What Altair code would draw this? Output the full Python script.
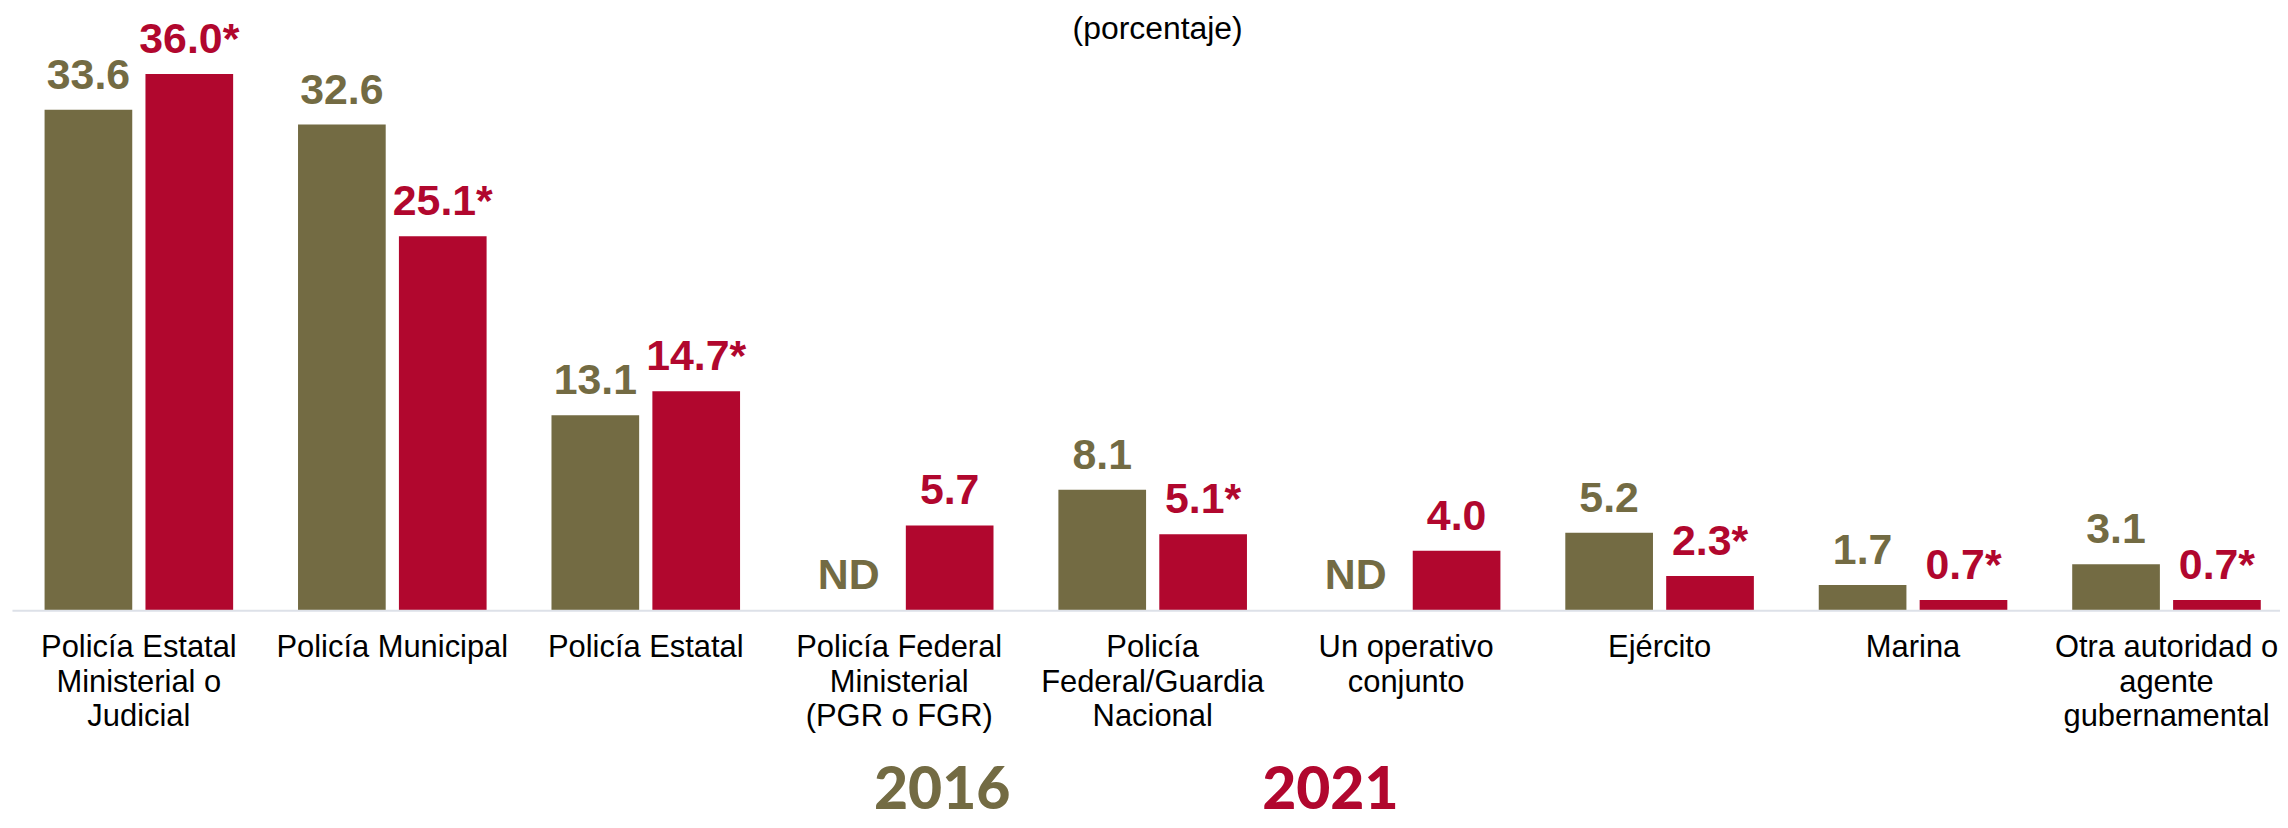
import altair as alt
import pandas as pd

categories = [
    "Policía Estatal\nMinisterial o\nJudicial",
    "Policía Municipal",
    "Policía Estatal",
    "Policía Federal\nMinisterial\n(PGR o FGR)",
    "Policía\nFederal/Guardia\nNacional",
    "Un operativo\nconjunto",
    "Ejército",
    "Marina",
    "Otra autoridad o\nagente\ngubernamental",
]
years = ["2016", "2021"]
values_2016 = [33.6, 32.6, 13.1, None, 8.1, None, 5.2, 1.7, 3.1]
values_2021 = [36.0, 25.1, 14.7, 5.7, 5.1, 4.0, 2.3, 0.7, 0.7]
labels_2016 = ["33.6", "32.6", "13.1", "ND", "8.1", "ND", "5.2", "1.7", "3.1"]
labels_2021 = ["36.0*", "25.1*", "14.7*", "5.7", "5.1*", "4.0", "2.3*", "0.7*", "0.7*"]
subtitle = "(porcentaje)"

colors = ["#736B43", "#B1072E"]

rows = []
for i, c in enumerate(categories):
    for yr, vals, labs in ((years[0], values_2016, labels_2016), (years[1], values_2021, labels_2021)):
        v = vals[i]
        rows.append({"cat": c, "year": yr, "value": v,
                     "ypos": v if v is not None else 0.0, "label": labs[i]})
df = pd.DataFrame(rows)

color_scale = alt.Scale(domain=years, range=colors)
x_enc = alt.X(
    "cat:N", sort=categories,
    scale=alt.Scale(paddingInner=0.256, paddingOuter=0.1022, align=0.629),
    axis=alt.Axis(
        title=None, labelExpr="split(datum.label, '\\n')",
        domain=True, domainColor="#DDE1E8", domainWidth=2,
        ticks=False, tickSize=0, grid=False,
        labelFont="Liberation Sans", labelFontSize=31, labelColor="#000000",
        labelLineHeight=35, labelAngle=0, labelPadding=46,
        labelBaseline="alphabetic", labelLimit=0, labelOverlap=False,
        labelAlign="center", zindex=1,
    ),
)
xoff = alt.XOffset("year:N", sort=years, scale=alt.Scale(paddingInner=0.131, paddingOuter=0))
y_scale = alt.Scale(domain=[0, 36.85], nice=False, zero=True)

base = alt.Chart(df)
bars = base.mark_bar().encode(
    x=x_enc, xOffset=xoff,
    y=alt.Y("value:Q", scale=y_scale, axis=None),
    color=alt.Color("year:N", scale=color_scale, legend=None),
)
texts = base.mark_text(
    font="Liberation Sans", fontWeight="bold", fontSize=43,
    dy=-21, baseline="alphabetic", align="center",
).encode(
    x=x_enc, xOffset=xoff,
    y=alt.Y("ypos:Q", scale=y_scale, axis=None),
    text="label:N",
    color=alt.Color("year:N", scale=color_scale, legend=None),
)

legend_x = [933.5, 1323]
legend_layers = []
for i, yr in enumerate(years):
    legend_layers.append(
        alt.Chart(alt.Data(values=[{"year": yr}])).mark_text(
            font="Lato", fontWeight=900, fontSize=59,
            baseline="alphabetic", align="center",
        ).encode(text="year:N", color=alt.value(colors[i]),
                 x=alt.value(legend_x[i]), y=alt.value(750))
    )

sub = alt.Chart(alt.Data(values=[{"t": subtitle}])).mark_text(
    font="Liberation Sans", fontSize=32, baseline="alphabetic", align="center", color="#000000",
).encode(text="t:N", x=alt.value(1149.7), y=alt.value(-22))

chart = alt.layer(bars, texts, *legend_layers, sub).properties(
    width=2276, height=551,
    autosize=alt.AutoSizeParams(type="none"),
    padding={"left": 4, "top": 52, "right": 0, "bottom": 217},
).configure(background="white").configure_view(stroke=None)

chart.save("out.html", embed_options={"renderer": "svg", "actions": False})
